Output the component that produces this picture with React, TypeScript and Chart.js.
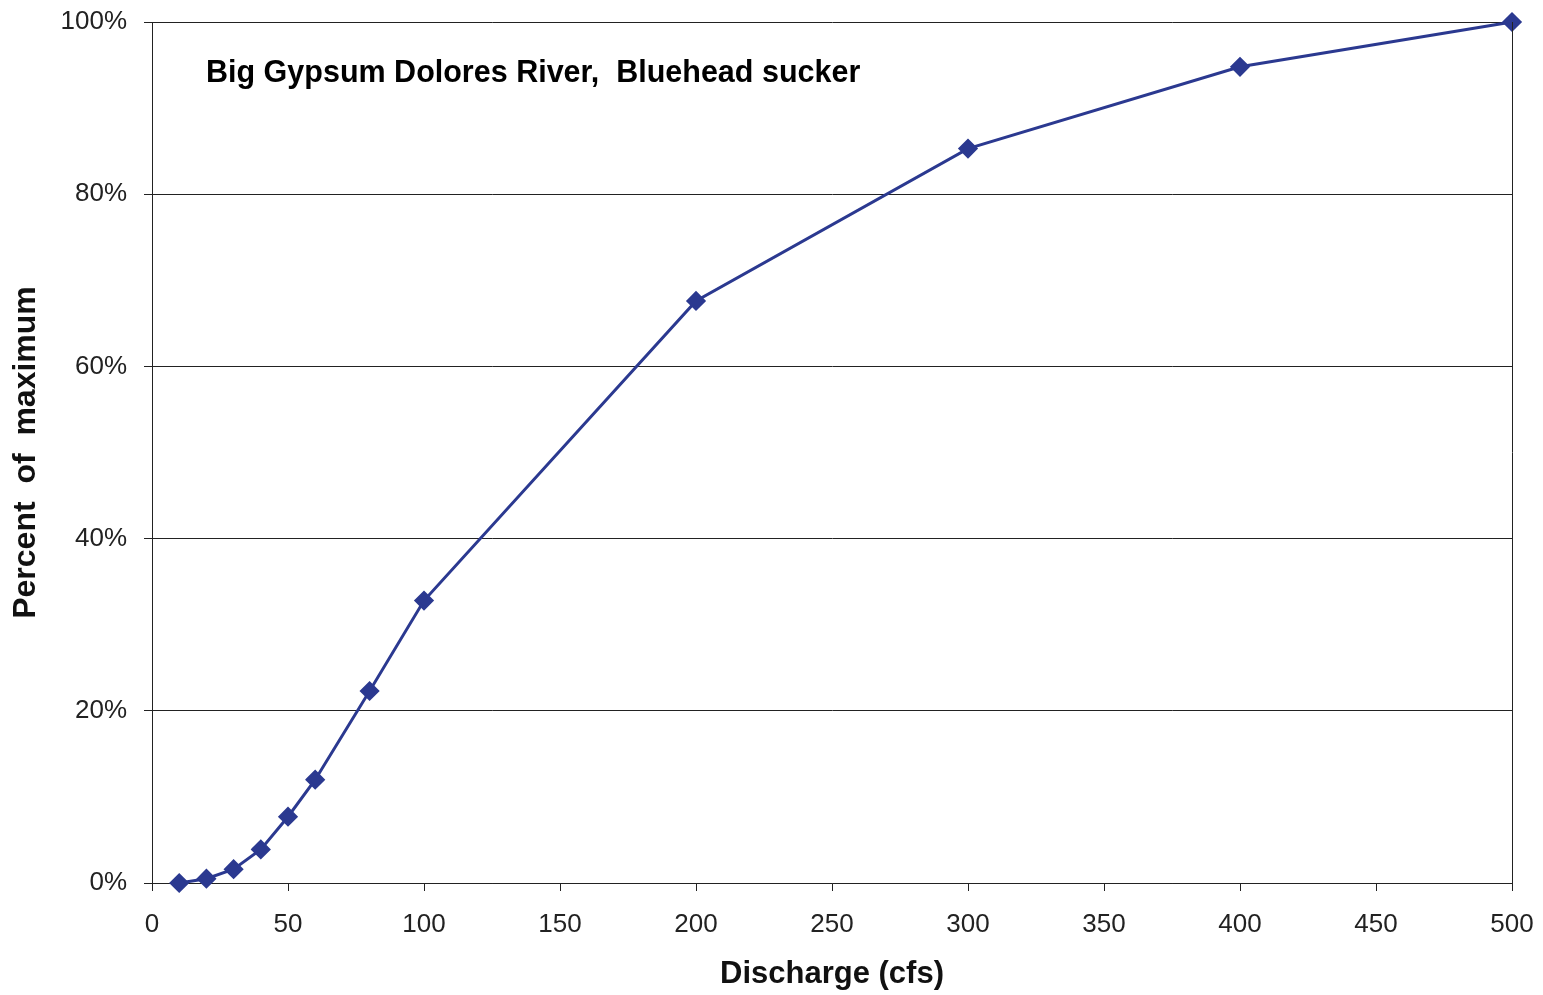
import React, { useEffect, useRef } from "react";
import { Chart, registerables } from "chart.js";

Chart.register(...registerables);

const discharge = [10, 20, 30, 40, 50, 60, 80, 100, 200, 300, 400, 500];
const percentOfMax = [0, 0.5, 1.6, 3.9, 7.7, 12.0, 22.3, 32.8, 67.6, 85.3, 94.8, 100];
const annotationText = "Big Gypsum Dolores River,  Bluehead sucker";
const xTitle = "Discharge (cfs)";
const yTitle = "Percent  of  maximum";

const FONT = "'Liberation Sans', Arial, Helvetica, sans-serif";
const LINE_COLOR = "#2B3990";

const extrasPlugin = {
  id: "extras",
  afterDraw(chart: any) {
    const { ctx, chartArea } = chart;
    ctx.save();
    ctx.strokeStyle = "#222";
    ctx.lineWidth = 1;
    ctx.beginPath();
    ctx.moveTo(Math.round(chartArea.right) + 0.5, chartArea.top);
    ctx.lineTo(Math.round(chartArea.right) + 0.5, chartArea.bottom);
    ctx.stroke();
    ctx.fillStyle = "#000";
    ctx.font = `bold 30.5px ${FONT}`;
    ctx.textAlign = "left";
    ctx.textBaseline = "middle";
    ctx.fillText(annotationText, chartArea.left + 54, chartArea.top + 52);
    ctx.restore();
  },
};

export default function App() {
  const canvasRef = useRef<HTMLCanvasElement | null>(null);

  useEffect(() => {
    if (!canvasRef.current) return;
    const chart = new Chart(canvasRef.current, {
      type: "scatter",
      data: {
        datasets: [
          {
            data: discharge.map((x, i) => ({ x, y: percentOfMax[i] })),
            showLine: true,
            borderColor: LINE_COLOR,
            backgroundColor: LINE_COLOR,
            borderWidth: 3,
            pointStyle: "rectRot",
            pointRadius: 8,
            pointHoverRadius: 8,
            tension: 0,
            clip: false,
          },
        ],
      },
      options: {
        responsive: true,
        maintainAspectRatio: false,
        animation: false,
        layout: { padding: { top: 22, right: 31, left: 0, bottom: 0 } },
        plugins: {
          legend: { display: false },
          tooltip: { enabled: false },
        },
        scales: {
          x: {
            type: "linear",
            min: 0,
            max: 500,
            ticks: {
              stepSize: 50,
              color: "#222",
              font: { family: FONT, size: 26 },
              padding: 18,
              maxRotation: 0,
            },
            grid: {
              drawOnChartArea: false,
              drawTicks: true,
              tickLength: 8,
              color: "#222",
            },
            border: { display: true, color: "#222", width: 1 },
            title: {
              display: true,
              text: xTitle,
              color: "#111",
              font: { family: FONT, size: 31, weight: "bold" },
              padding: { top: 0, bottom: 2 },
            },
            afterFit: (scale: any) => {
              scale.height = 112;
              scale.paddingLeft = 0;
              scale.paddingRight = 0;
            },
          },
          y: {
            type: "linear",
            min: 0,
            max: 100,
            ticks: {
              stepSize: 20,
              color: "#222",
              font: { family: FONT, size: 26 },
              padding: 17,
              callback: (v: any) => `${v}%`,
            },
            grid: {
              drawTicks: true,
              tickLength: 8,
              color: "#222",
              lineWidth: 1,
            },
            border: { display: true, color: "#222", width: 1 },
            title: {
              display: true,
              text: yTitle,
              color: "#111",
              font: { family: FONT, size: 32, weight: "bold" },
              padding: { top: 7, bottom: 0 },
            },
            afterFit: (scale: any) => {
              scale.width = 152;
              scale.paddingTop = 0;
              scale.paddingBottom = 0;
            },
          },
        },
      },
      plugins: [extrasPlugin],
    });
    return () => chart.destroy();
  }, []);

  return (
    <div
      style={{
        position: "fixed",
        left: 0,
        top: 0,
        width: 1543,
        height: 995,
        background: "#fff",
      }}
    >
      <canvas ref={canvasRef} />
    </div>
  );
}
